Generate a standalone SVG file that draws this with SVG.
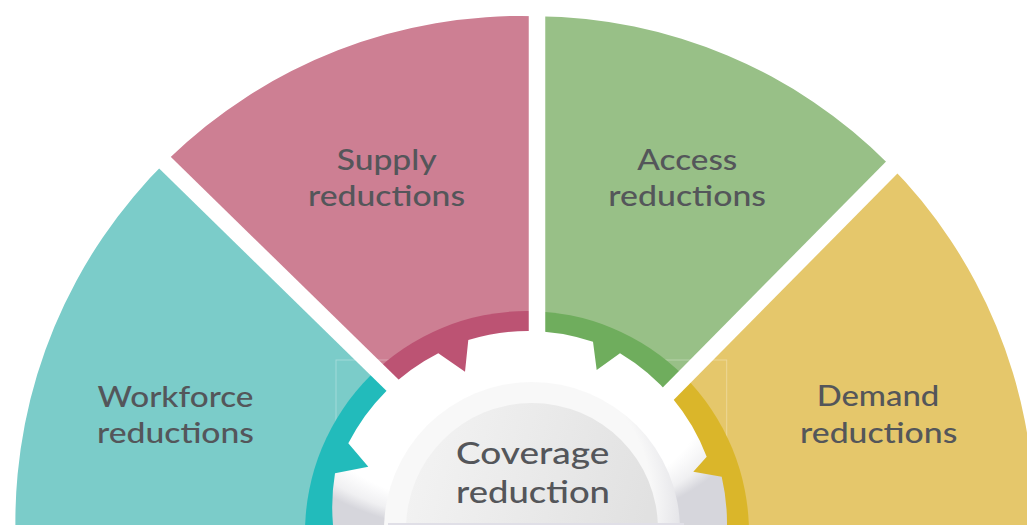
<svg xmlns="http://www.w3.org/2000/svg" xmlns:xlink="http://www.w3.org/1999/xlink" width="1027" height="525" viewBox="0 0 1027 525">
  <style>
    .lbl { font-family: Lato, "Liberation Sans", sans-serif; font-size: 29.5px; font-weight: 500; fill: #54565a; text-anchor: middle; }
    .lbl-c { font-size: 31px; }
    .teal-l { fill: #7bccc9; } .teal-d { fill: #22bbbb; }
    .pink-l { fill: #cd7f93; } .pink-d { fill: #bc5373; }
    .green-l { fill: #98c087; } .green-d { fill: #6fad5d; }
    .yellow-l { fill: #e5c76b; } .yellow-d { fill: #dab62a; }
    .gap { stroke: #ffffff; stroke-width: 16.5; fill: none; }
  </style>
  <defs>
    <path id="fan" d="M 15,560 L 15.4,525 A 505.6 505.6 0 0 1 537,16.2 A 501.2 501.2 0 0 1 1034.2,517 L 1034.2,560 Z"/>
    <circle id="ring" cx="527" cy="533" r="222"/>
    <clipPath id="c-teal"><polygon points="537,526.5 -63,-60.3 -100,-60.3 -100,700 537,700"/></clipPath>
    <clipPath id="c-pink"><polygon points="537,526.5 -63,-60.3 537,-60.3"/></clipPath>
    <clipPath id="c-green"><polygon points="537,526.5 537,-80.7 1137,-80.7"/></clipPath>
    <clipPath id="c-yellow"><polygon points="537,526.5 1137,-80.7 1200,-80.7 1200,700 537,700"/></clipPath>
    <radialGradient id="g-gear" cx="0.44" cy="0.36" r="0.62">
      <stop offset="0.8" stop-color="#ffffff"/>
      <stop offset="0.92" stop-color="#f0f0f2"/>
      <stop offset="1" stop-color="#d6d6dc"/>
    </radialGradient>
    <radialGradient id="g-band" cx="0.42" cy="0.4" r="0.62">
      <stop offset="0.78" stop-color="#f8f8f8"/>
      <stop offset="1" stop-color="#dedee3"/>
    </radialGradient>
    <linearGradient id="g-inner" x1="0" y1="0" x2="1" y2="0.3">
      <stop offset="0" stop-color="#f4f4f4"/>
      <stop offset="1" stop-color="#e1e1e1"/>
    </linearGradient>
  </defs>

  <g id="sectors">
    <g id="node-workforce">
      <use xlink:href="#fan" class="teal-l" clip-path="url(#c-teal)"/>
      <text class="lbl" x="175.5" y="406.5" textLength="156" lengthAdjust="spacingAndGlyphs">Workforce</text>
      <text class="lbl" x="175.5" y="442.5" textLength="157" lengthAdjust="spacingAndGlyphs">reductions</text>
    </g>
    <g id="node-supply">
      <use xlink:href="#fan" class="pink-l" clip-path="url(#c-pink)"/>
      <text class="lbl" x="386.7" y="170" textLength="100" lengthAdjust="spacingAndGlyphs">Supply</text>
      <text class="lbl" x="386.6" y="206" textLength="157" lengthAdjust="spacingAndGlyphs">reductions</text>
    </g>
    <g id="node-access">
      <use xlink:href="#fan" class="green-l" clip-path="url(#c-green)"/>
      <text class="lbl" x="687.3" y="169.5" textLength="100" lengthAdjust="spacingAndGlyphs">Access</text>
      <text class="lbl" x="687.2" y="206" textLength="157.7" lengthAdjust="spacingAndGlyphs">reductions</text>
    </g>
    <g id="node-demand">
      <use xlink:href="#fan" class="yellow-l" clip-path="url(#c-yellow)"/>
      <text class="lbl" x="878" y="406.3" textLength="122.6" lengthAdjust="spacingAndGlyphs">Demand</text>
      <text class="lbl" x="878.7" y="442.5" textLength="157.3" lengthAdjust="spacingAndGlyphs">reductions</text>
    </g>
  </g>

  <rect x="336" y="360" width="390.7" height="200" fill="none" stroke="#ffffff" stroke-opacity="0.3" stroke-width="1"/>

  <g id="inner-ring">
    <use xlink:href="#ring" class="teal-d" clip-path="url(#c-teal)"/>
    <use xlink:href="#ring" class="pink-d" clip-path="url(#c-pink)"/>
    <use xlink:href="#ring" class="green-d" clip-path="url(#c-green)"/>
    <use xlink:href="#ring" class="yellow-d" clip-path="url(#c-yellow)"/>
  </g>

  <g id="connectors">
    <line class="gap" x1="537" y1="526.5" x2="537" y2="-10"/>
    <line class="gap" x1="537" y1="526.5" x2="-63" y2="-60.3"/>
    <line class="gap" x1="537" y1="526.5" x2="1137" y2="-80.7"/>
  </g>

  <g id="node-coverage">
    <path fill="url(#g-gear)" d="M 333,540 L 333,525 A 205 205 0 0 1 335,473.3 L 368.3,466.7 L 348.3,443.3 A 205 205 0 0 1 438.3,353.3 L 465,371.7 L 468.3,340 A 205 205 0 0 1 593,341.7 L 596.7,370 L 620,353.3 A 205 205 0 0 1 706.7,456.7 L 693.3,471.7 L 721.7,476.7 A 205 205 0 0 1 727,525 L 727,540 Z"/>
    <circle cx="532" cy="530" r="148" fill="url(#g-band)"/>
    <circle cx="532" cy="529" r="126" fill="url(#g-inner)"/>
    <rect x="388" y="523" width="296" height="2" fill="#e0dfe7"/>
    <text class="lbl lbl-c" x="532.7" y="464" textLength="153.3" lengthAdjust="spacingAndGlyphs">Coverage</text>
    <text class="lbl lbl-c" x="533" y="503.3" textLength="154" lengthAdjust="spacingAndGlyphs">reduction</text>
  </g>
</svg>
